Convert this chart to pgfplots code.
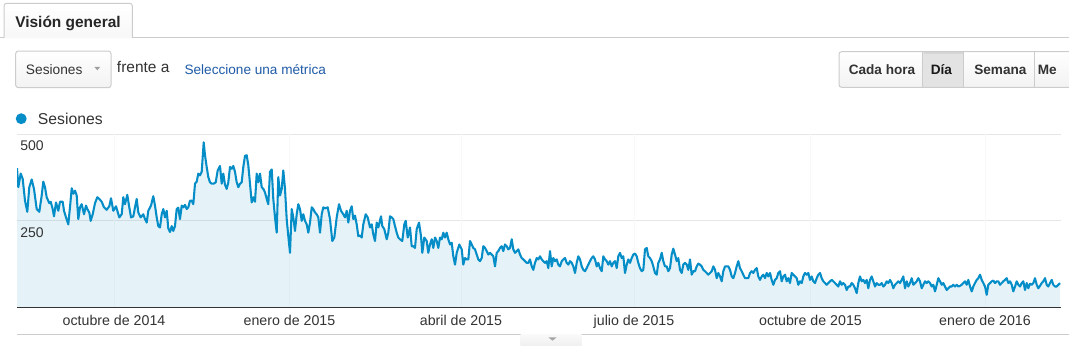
\documentclass[border=0pt]{standalone}
\usepackage{pgfplots}
\pgfplotsset{compat=1.18}
\usepackage{pgfplotstable}
\usepackage{fontspec}
\setmainfont{Liberation Sans}
\definecolor{lineblue}{HTML}{058DC7}
\definecolor{gridgray}{HTML}{E6E6E6}
\definecolor{bordergray}{HTML}{CCCCCC}
\definecolor{txt}{HTML}{333333}
\definecolor{linkblue}{HTML}{1F5BA7}
\definecolor{axisdark}{HTML}{333333}

\pgfplotstableread{
x y
17 402
18.3 347
20.7 386
22.7 371
25 308
27.3 276
29.3 347
31.7 369
34 342
36.7 284
39.3 276
41.7 323
43.3 363
45 347
46.7 318
49.3 301
50.7 305
52.7 284
54 263
56 303
58.3 279
60 305
62.7 305
64 279
66 260
68.3 240
70 289
71.7 344
73.3 328
75 337
76.7 323
78.3 255
80 289
81.7 298
84 269
86 294
87.3 284
89.3 274
90.7 250
92.7 269
95 301
97.3 318
99.3 313
101.7 305
104 289
106.7 282
109.3 292
111 315
113.3 279
116 292
119.3 260
121.7 269
123.3 318
125 298
127.3 325
129 294
131 260
133.3 263
135 289
136.7 313
138.3 274
140.7 260
143.3 269
145 255
146.7 245
148.3 279
151 294
153.3 321
155 294
156.7 260
158.3 235
160 231
161.7 269
163.3 284
165 260
166.7 279
168.3 228
170 218
171.7 235
173.3 221
175 235
176.7 284
178.3 288
180 255
181.7 294
183.3 289
185 296
186.7 284
188.3 289
190 308
191.7 308
193.3 298
195 357
196.7 363
198.3 386
200 381
201.7 391
203.7 476
205 439
206.7 405
208.3 376
210 361
211.7 357
213.7 357
215.7 361
217.7 395
220 408
221.7 357
223.3 386
225 354
226.7 342
228.3 361
230 405
231.7 400
233.3 408
235 391
236.7 361
238.3 347
240 357
241.7 361
243.3 405
245 437
246.7 439
248.3 410
250 357
251.7 303
253.3 318
255 305
256.7 386
258.3 361
260 386
261.7 347
263.3 342
265 332
266.7 313
268.3 298
270 391
271.7 398
273.3 313
275 260
276.7 216
278.3 376
280 323
281.7 342
283.3 395
285 342
286.7 255
288.3 206
290 158
291.7 284
293.3 260
295 221
296.7 269
298.3 298
300 284
301.7 250
303.3 269
305 250
306.7 240
308.3 216
310 245
311.7 289
313.3 284
315 274
316.7 269
318.3 260
320 216
321.7 269
323.3 289
325 286
327.7 289
330 255
332.3 192
334.3 202
336.7 260
339 298
341 279
343.3 269
345 260
346.7 279
348.3 245
350 279
351.7 292
353.3 255
355 265
356.7 240
358.3 206
360 208
361.7 202
363.3 240
365.7 269
367.7 260
370 231
371.7 240
373.3 211
375 192
376.7 245
378.3 231
381 263
382.3 235
384.3 226
386.7 197
388.3 216
390 263
391.7 260
393.3 255
395 235
396.7 216
398.3 202
400 197
402.3 192
404.3 240
405.7 250
407.7 202
410 231
411.7 177
413.3 177
415 172
416.7 226
419 245
421 206
422.3 158
424.3 202
426.7 192
428.3 158
430 182
431.7 197
433.3 172
435 202
436.7 192
438.3 172
440 202
441.7 197
443.3 216
445 202
446.7 216
448.3 197
450 182
451.7 187
453.3 148
455 124
456.7 158
459.3 182
461.7 168
463.3 124
465 143
466.7 139
468.3 139
470 192
471.7 182
473.3 172
475 168
476.7 153
478.3 139
480 134
481.7 143
483.3 177
485 172
486.7 163
488.3 153
490 158
491.7 153
493.3 148
495 119
496.7 158
498.3 163
500 172
501.7 177
503.3 163
505 182
506.7 177
508.3 168
510 172
511.7 197
513.3 168
515 158
516.7 163
518.3 168
520 153
521.7 143
523.3 139
525 134
526.7 129
528.3 129
530 139
531.7 119
533.3 109
535 129
536.7 143
538.3 139
540 148
541.7 139
543.3 134
545 129
546.7 134
548.3 114
550 163
551.7 119
553.3 143
555 134
556.7 139
558.3 124
560 119
561.7 134
563.3 139
565 143
566.7 129
568.3 124
570 134
571.7 129
573.3 119
575 100
576.7 129
578.3 148
580 139
581.7 119
583.3 109
585 105
586.7 114
588.3 124
590 134
591.7 143
593.3 148
595 139
596.7 119
598.3 129
600 114
601.7 105
603.3 148
605 139
606.7 134
608.3 124
610 134
611.7 119
613.3 129
615 134
616.7 114
618.3 148
620 158
621.7 143
623.3 148
625 100
626.7 124
628.3 139
630 129
631.7 143
633.3 153
635 156
636.7 148
638.3 129
640 114
641.7 105
643.3 109
645 168
646.7 172
648.3 148
650 143
651.7 134
653.3 119
655 100
656.7 95
658.3 129
660 139
661.7 158
663.3 134
665 119
666.7 119
668.3 105
670 114
671.7 153
673.3 170
675 153
676.7 134
678.3 143
680 109
681.7 100
683.3 124
685 129
686.7 124
688.3 109
690 139
691.7 95
693.3 105
695 105
696.7 119
698.3 127
700 124
701.7 119
703.3 109
705 105
706.7 100
708.3 95
710 100
711.7 105
713.3 119
715 109
716.7 85
718.3 100
720 90
721.7 76
723.3 105
725 119
726.7 119
728.3 119
730 109
731.7 90
733.3 85
735 100
736.7 119
738.3 134
740 114
741.7 105
743.3 95
745 85
746.7 85
748.3 85
750 100
751.7 105
753.3 100
755 109
756.7 114
758.3 90
760 80
761.7 90
763.3 95
765 85
766.7 100
768.3 90
770 100
771.7 80
773.3 66
775 80
776.7 85
778.3 100
780 105
781.7 76
783.3 90
785 95
786.7 76
788.3 85
790 71
791.7 100
793.3 95
795 90
796.7 85
798.3 66
800 76
801.7 71
803.3 90
805 100
806.7 95
808.3 100
810 80
811.7 90
813.3 76
815 71
816.7 85
818.3 95
820 100
821.7 85
823.3 76
825 71
826.7 66
828.3 71
830 76
831.7 80
833.3 76
835 71
836.7 66
838.3 61
840 76
841.7 66
843.3 71
845 66
846.7 51
848.3 61
850 61
851.7 71
853.3 66
855 56
856.7 42
858.3 71
860 90
861.7 76
863.3 80
865 71
866.7 80
868.3 56
870 80
871.7 90
873.3 76
875 61
876.7 71
878.3 66
880 66
881.7 71
883.3 61
885 66
886.7 76
888.3 71
890 80
891.7 71
893.3 56
895 66
896.7 71
898.3 76
900 71
901.7 80
903.3 90
905 56
906.7 76
908.3 61
910 71
911.7 85
913.3 66
915 71
916.7 76
918.3 85
920 76
921.7 56
923.3 66
925 76
926.7 71
928.3 76
930 71
931.7 61
933.3 66
935 47
936.7 66
938.3 85
940 76
941.7 66
943.3 71
945 61
946.7 51
948.3 56
950 61
951.7 61
953.3 66
955 61
956.7 66
958.3 61
960 63
961.7 66
963.3 71
965 76
966.7 66
968.3 80
970 61
971.7 47
973.3 61
975 71
976.7 80
978.3 85
980 95
981.7 80
983.3 71
985 61
986.7 37
988.3 66
990 71
991.7 76
993.3 78
995 71
996.7 76
998.3 76
1000 66
1001.7 71
1003.3 76
1005 80
1006.7 85
1008.3 71
1010 76
1011.7 66
1013.3 47
1015 61
1016.7 76
1018.3 66
1020 61
1021.7 71
1023.3 76
1025 51
1026.7 71
1028.3 56
1030 69
1031.7 66
1033.3 71
1035 85
1036.7 66
1038.3 56
1040 63
1041.7 71
1043.3 76
1045 85
1046.7 66
1048.3 61
1050 71
1051.7 80
1053.3 66
1055 61
1056.7 61
1058.3 66
1060 71
}\sesiones

\begin{document}
\begin{tikzpicture}
\begin{scope}[x=0.75pt,y=-0.75pt]
\useasboundingbox (0,0) rectangle (1069,354);
\fill[white] (0,0) rectangle (1069,354);
% tab
\draw[bordergray, line width=0.75pt] (0,37.7) -- (4,37.7);
\draw[bordergray, line width=0.75pt] (132.3,37.7) -- (1069,37.7);
\shade[top color=white, bottom color=gray!6, rounded corners=2pt] (4,3.3) rectangle (132.3,38);
\draw[bordergray, line width=0.75pt, rounded corners=2pt] (4,38) -- (4,3.3) -- (132.3,3.3) -- (132.3,38);
\node[anchor=base west, inner sep=0pt, text=black!85, font=\fontsize{11.6pt}{13pt}\selectfont\bfseries] at (15,27.3) {Visión general};
% dropdown
\shade[top color=white, bottom color=gray!10, rounded corners=2pt] (15.7,51) rectangle (111,87.7);
\draw[bordergray, line width=0.75pt, rounded corners=2pt] (15.7,51) rectangle (111,87.7);
\node[anchor=base west, inner sep=0pt, text=txt, font=\fontsize{10.3pt}{12pt}\selectfont] at (25.7,74) {Sesiones};
\fill[gray!75] (94.3,66.8) -- (100.3,66.8) -- (97.3,70.3) -- cycle;
\node[anchor=base west, inner sep=0pt, text=txt, font=\fontsize{11.6pt}{13pt}\selectfont] at (116.7,72.7) {frente a};
\node[anchor=base west, inner sep=0pt, text=linkblue, font=\fontsize{10.2pt}{12pt}\selectfont] at (184.3,74) {Seleccione una métrica};
% buttons
\shade[top color=white, bottom color=gray!10, rounded corners=2pt] (839,51.7) rectangle (1080,87.3);
\fill[gray!22] (922.7,51.7) rectangle (963.3,87.3);
\draw[gray!32, line width=1.5pt] (923.5,53) -- (962.5,53);
\draw[bordergray, line width=0.75pt, rounded corners=2pt] (1080,51.7) -- (839,51.7) -- (839,87.3) -- (1080,87.3);
\draw[bordergray, line width=0.75pt] (922.7,51.7) -- (922.7,87.3);
\draw[bordergray, line width=0.75pt] (963.3,51.7) -- (963.3,87.3);
\draw[bordergray, line width=0.75pt] (1034.3,51.7) -- (1034.3,87.3);
\node[anchor=base west, inner sep=0pt, text=txt, font=\fontsize{10.2pt}{12pt}\selectfont\bfseries] at (848.5,74.3) {Cada hora};
\node[anchor=base west, inner sep=0pt, text=black!90, font=\fontsize{10.2pt}{12pt}\selectfont\bfseries] at (930.5,74.3) {Día};
\node[anchor=base west, inner sep=0pt, text=txt, font=\fontsize{10.2pt}{12pt}\selectfont\bfseries] at (974,74.3) {Semana};
\node[anchor=base west, inner sep=0pt, text=txt, font=\fontsize{10.2pt}{12pt}\selectfont\bfseries] at (1037.5,74.3) {Me};
% legend
\fill[lineblue] (21.2,118.7) circle[radius=4.1pt];
\node[anchor=base west, inner sep=0pt, text=txt, font=\fontsize{11.8pt}{13pt}\selectfont] at (37.7,124) {Sesiones};
% bottom separator and handle
\draw[bordergray, line width=0.75pt] (17,334) -- (1069,334);
\shade[top color=gray!4, bottom color=gray!12] (520.7,334.4) rectangle (581.7,345);
\fill[gray!70] (548.3,337.3) -- (556.7,337.3) -- (552.5,340.7) -- cycle;
\end{scope}
\begin{axis}[
  at={(12.75pt,-230.775pt)}, anchor=south west,
  scale only axis, width=783pt, height=130.275pt,
  xmin=17, xmax=1061, ymin=0, ymax=500,
  axis line style={draw=none},
  xtick=\empty, ytick=\empty,
  clip mode=individual,
]
% grid lines
\draw[gridgray, line width=0.75pt] (axis cs:17,500) -- (axis cs:1061,500);
\draw[gridgray, line width=0.75pt] (axis cs:17,250) -- (axis cs:1061,250);
\foreach \t in {114,289.5,461,634,810.5,985} {
  \edef\temp{\noexpand\draw[gridgray!30, line width=0.5pt] (axis cs:\t,0) -- (axis cs:\t,500);}
  \temp
}
\addplot[draw=none, fill=lineblue, fill opacity=0.1] table[x=x,y=y] {\sesiones} \closedcycle;
\addplot[lineblue, line width=1.55pt, line join=round, mark=none] table[x=x,y=y] {\sesiones};
\draw[axisdark, line width=1.1pt] (axis cs:17,0) -- (axis cs:1061,0);
% y labels
\node[anchor=north west, inner sep=0pt, text=txt, font=\fontsize{10.5pt}{12pt}\selectfont] at (axis cs:17,500) [xshift=2.25pt, yshift=-4.6pt] {500};
\node[anchor=north west, inner sep=0pt, text=txt, font=\fontsize{10.5pt}{12pt}\selectfont] at (axis cs:17,250) [xshift=2.25pt, yshift=-4.6pt] {250};
% x labels
\foreach \t/\lab in {114/octubre de 2014, 289.5/enero de 2015, 461/abril de 2015, 634/julio de 2015, 810.5/octubre de 2015, 985/enero de 2016} {
  \edef\temp{\noexpand\node[anchor=base, inner sep=0pt, text=txt, font=\noexpand\fontsize{10.65pt}{12pt}\noexpand\selectfont] at (axis cs:\t,0) [yshift=-13.7pt] {\lab};}
  \temp
}
\end{axis}
\end{tikzpicture}
\end{document}
